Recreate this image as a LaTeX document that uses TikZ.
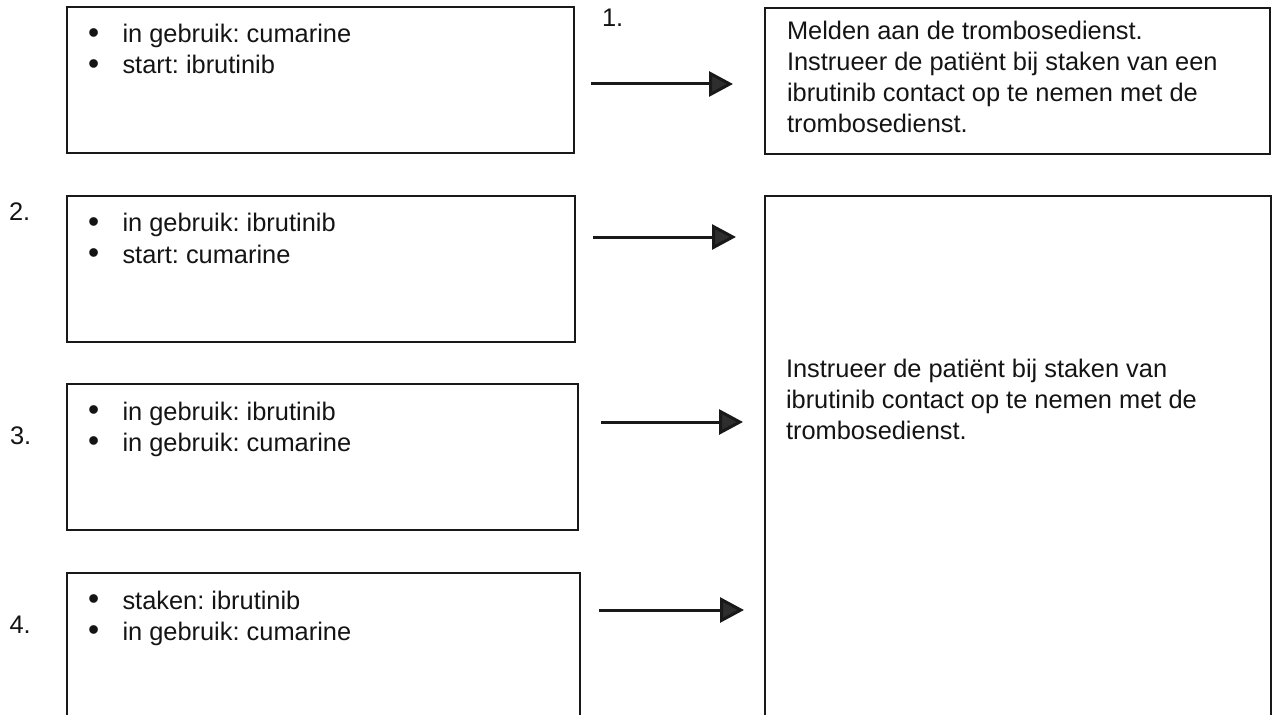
\documentclass[tikz,border=0pt]{standalone}
\usepackage{fontspec}
\setmainfont{Liberation Sans}
\frenchspacing
\usetikzlibrary{arrows.meta}
\tikzset{
  box/.style={draw=black!90, line width=1.6bp, inner sep=0pt, outer sep=0pt, anchor=north west},
  txt/.style={anchor=base west, inner sep=0pt, outer sep=0pt, text=black!92,
    font=\fontsize{25.4bp}{31bp}\selectfont\frenchspacing},
  num/.style={anchor=base west, inner sep=0pt, outer sep=0pt, text=black!92,
    font=\fontsize{25.4bp}{31bp}\selectfont},
  arr/.style={line width=3bp, black!90, -{Triangle[length=24bp,width=25bp,fill=black!82]}}
}
\newcommand{\bul}{\makebox[34.5bp][l]{\raisebox{-0.6bp}{\scalebox{1.25}{\textbullet}}}}
\begin{document}
\begin{tikzpicture}[x=1bp,y=-1bp]
\useasboundingbox (0,0) rectangle (1273,715);
\clip (0,0) rectangle (1273,715);
% left boxes
\node[box, minimum width=507bp, minimum height=146bp] (b1) at (67,7) {};
\node[box, minimum width=508bp, minimum height=146bp] (b2) at (67,196) {};
\node[box, minimum width=511bp, minimum height=146bp] (b3) at (67,384) {};
\node[box, minimum width=513bp, minimum height=190bp] (b4) at (67,573) {};
% right boxes
\node[box, minimum width=505bp, minimum height=146bp] (r1) at (765,8) {};
\node[box, minimum width=506bp, minimum height=560bp] (r2) at (765,196) {};
% box texts
\node[txt] (t1) at (88,43) {\vtop{\hbox{\bul in gebruik: cumarine}\hbox{\bul start: ibrutinib}}};
\node[txt] (t2) at (88,232) {\vtop{\hbox{\bul in gebruik: ibrutinib}\hbox{\bul start: cumarine}}};
\node[txt] (t3) at (88,420) {\vtop{\hbox{\bul in gebruik: ibrutinib}\hbox{\bul in gebruik: cumarine}}};
\node[txt] (t4) at (88,609) {\vtop{\hbox{\bul staken: ibrutinib}\hbox{\bul in gebruik: cumarine}}};
\node[txt] (u1) at (787,39.5) {\vtop{\hbox{Melden aan de trombosedienst.}\hbox{Instrueer de patiënt bij staken van een}\hbox{ibrutinib contact op te nemen met de}\hbox{trombosedienst.}}};
\node[txt] (u2) at (786,377.5) {\vtop{\hbox{Instrueer de patiënt bij staken van}\hbox{ibrutinib contact op te nemen met de}\hbox{trombosedienst.}}};
% numbers
\node[num] (n1) at (602,26.7) {1.};
\node[num] (n2) at (9,220.7) {2.};
\node[num] (n3) at (10,444) {3.};
\node[num] (n4) at (9.5,633) {4.};
% arrows
\coordinate (a1s) at (591,84);   \coordinate (a1e) at (733,84);
\coordinate (a2s) at (593,237);  \coordinate (a2e) at (736,237);
\coordinate (a3s) at (601,422);  \coordinate (a3e) at (743,422);
\coordinate (a4s) at (599,610);  \coordinate (a4e) at (744,610);
\draw[arr] (a1s) -- (a1e);
\draw[arr] (a2s) -- (a2e);
\draw[arr] (a3s) -- (a3e);
\draw[arr] (a4s) -- (a4e);
\end{tikzpicture}
\end{document}
